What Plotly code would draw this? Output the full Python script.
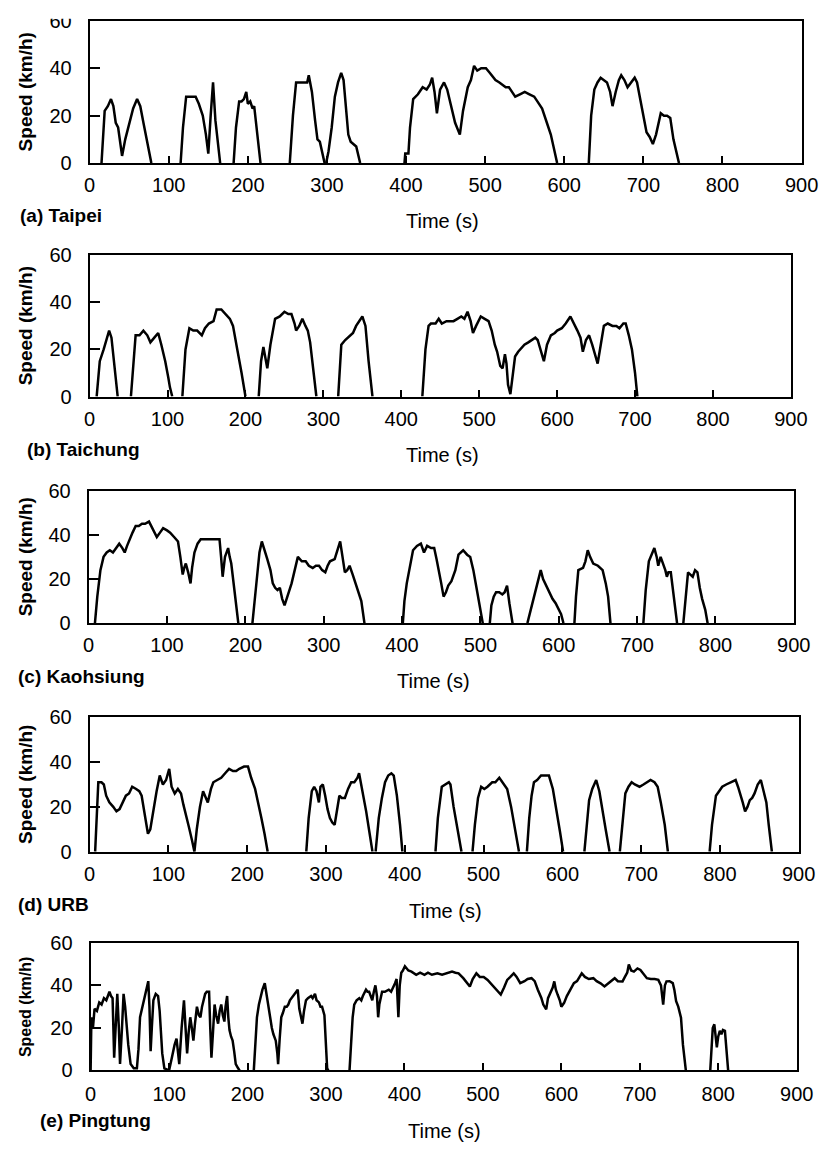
import plotly.graph_objects as go

W, H = 839, 1155

# ---------------- data: (time s, speed km/h) ----------------
taipei = [(0,0),(15,0),(17,12),(19,22),(23,24),(27,27),(30,24),(33,17),(36,15),(38,10),(41,3),(45,10),(50,17),(55,23),(60,27),(64,24),(68,17),(72,10),(78,0),
(115,0),(118,15),(122,28),(128,28),(134,28),(138,25),(143,20),(147,12),(150,4),(153,20),(156,34),(159,18),(165,0),
(182,0),(185,15),(189,26),(192,26),(195,27),(198,30),(200,25),(203,26),(206,23),(208,24),(212,12),(216,0),
(253,0),(257,20),(261,34),(268,34),(275,34),(277,37),(281,30),(285,18),(288,10),(291,9),(294,4),(297,0),(299,0),(302,5),(306,15),(310,28),(314,34),(318,38),(321,35),(324,25),(327,12),(330,9),(334,8),(337,7),(342,0),
(398,0),(399,4),(403,4),(405,15),(409,27),(415,29),(421,32),(426,31),(430,33),(433,36),(436,30),(439,21),(443,31),(448,34),(452,31),(456,25),(462,17),(468,12),(472,22),(478,32),(482,35),(486,41),(490,39),(495,40),(501,40),(506,38),(513,35),(518,34),(522,33),(526,32),(530,32),(534,30),(538,28),(544,29),(550,30),(556,29),(562,28),(566,26),(572,23),(578,17),(583,12),(587,6),(591,0),
(631,0),(634,20),(638,31),(642,34),(646,36),(650,35),(654,34),(658,30),(661,24),(665,30),(669,35),(672,37),(676,35),(680,32),(684,34),(689,36),(692,34),(697,25),(704,13),(708,11),(712,8),(716,12),(720,19),(722,21),(726,20),(730,20),(734,19),(738,10),(745,0)]

taichung = [(0,0),(9,0),(13,15),(18,20),(22,25),(25,28),(28,25),(32,12),(36,0),
(53,0),(56,15),(59,26),(64,26),(69,28),(74,26),(78,23),(83,25),(88,27),(92,22),(97,15),(101,8),(103,4),(106,0),
(119,0),(123,20),(128,29),(133,28),(138,28),(144,26),(148,29),(153,31),(159,32),(163,37),(169,37),(174,35),(180,33),(184,30),(187,25),(190,19),(195,10),(200,0),
(217,0),(220,15),(223,21),(226,15),(228,12),(232,22),(238,33),(244,34),(250,36),(255,35),(259,35),(263,31),(265,28),(269,30),(273,33),(277,30),(280,28),(283,23),(286,15),(291,0),
(319,0),(323,22),(328,24),(334,26),(338,27),(342,30),(346,32),(350,34),(354,30),(358,15),(363,0),
(427,0),(431,20),(435,30),(438,31),(444,31),(448,33),(452,31),(458,32),(462,32),(467,32),(472,33),(477,34),(481,33),(485,36),(489,32),(492,27),(496,30),(502,34),(507,33),(512,32),(516,28),(520,22),(523,19),(527,13),(530,12),(533,18),(535,14),(537,5),(540,1),(543,10),(546,17),(550,19),(555,21),(558,22),(563,23),(568,24),(572,25),(575,24),(579,20),(583,15),(587,22),(592,26),(597,27),(600,28),(606,29),(611,31),(617,34),(622,31),(626,28),(630,25),(633,19),(637,24),(641,26),(645,22),(649,18),(652,14),(656,22),(660,30),(665,31),(671,30),(676,30),(680,29),(685,31),(688,31),(692,26),(696,20),(700,10),(703,0)]

kaohsiung = [(0,0),(8,0),(11,12),(15,24),(19,30),(23,32),(27,33),(31,32),(35,34),(39,36),(43,34),(46,32),(49,35),(52,38),(56,41),(60,44),(64,44),(68,45),(72,45),(77,46),(80,44),(84,41),(87,39),(91,41),(95,43),(100,42),(104,41),(109,39),(114,37),(117,30),(120,22),(122,25),(124,27),(127,23),(130,18),(132,25),(135,32),(139,36),(143,38),(150,38),(160,38),(167,38),(169,30),(171,21),(174,30),(178,34),(180,30),(182,27),(186,15),(191,0),
(209,0),(212,10),(215,22),(218,32),(221,37),(224,34),(228,29),(232,24),(235,18),(238,16),(241,15),(244,16),(247,11),(250,8),(254,12),(259,18),(263,24),(267,30),(272,28),(277,28),(281,26),(286,25),(290,26),(294,26),(298,24),(302,23),(305,26),(308,28),(314,29),(318,33),(321,37),(324,30),(327,23),(330,24),(333,26),(337,22),(342,17),(345,14),(348,10),(352,0),
(401,0),(403,10),(406,18),(410,25),(414,33),(419,35),(424,36),(428,32),(432,35),(437,34),(441,34),(444,29),(447,24),(450,18),(453,12),(456,14),(459,17),(463,19),(468,24),(472,31),(478,33),(483,31),(487,30),(491,24),(495,16),(499,8),(503,0),
(512,0),(514,8),(517,12),(520,14),(524,14),(528,13),(531,14),(534,17),(537,9),(541,0),
(560,0),(564,6),(569,13),(573,18),(577,24),(580,20),(584,17),(588,14),(592,11),(596,9),(600,6),(603,4),(606,0),
(620,0),(622,12),(625,24),(631,25),(634,28),(637,33),(640,30),(644,27),(650,26),(656,24),(660,18),(663,12),(666,0),
(708,0),(711,15),(715,28),(719,31),(722,34),(725,30),(727,26),(730,30),(733,27),(736,24),(738,21),(740,23),(743,23),(747,10),(751,0),
(759,0),(762,12),(765,23),(768,22),(771,21),(774,24),(777,23),(780,16),(783,11),(787,6),(790,0)]

urb = [(0,0),(7,0),(9,20),(11,31),(15,31),(18,30),(21,25),(25,22),(30,20),(34,18),(38,19),(42,22),(46,25),(50,26),(54,29),(59,28),(63,27),(66,25),(70,16),(74,8),(77,10),(81,19),(85,27),(89,34),(93,30),(97,32),(101,37),(104,29),(108,26),(112,28),(116,26),(119,21),(122,17),(126,11),(130,5),(133,0),
(136,10),(140,20),(144,27),(147,24),(150,22),(154,28),(157,31),(162,32),(167,33),(172,35),(177,37),(182,36),(186,36),(190,37),(196,38),(201,38),(205,33),(210,28),(214,22),(218,15),(222,8),(226,0),
(275,0),(278,15),(282,27),(285,29),(288,27),(291,22),(293,29),(296,30),(299,25),(302,19),(305,15),(308,13),(311,12),(314,19),(317,25),(320,24),(324,24),(328,28),(332,31),(336,31),(340,33),(342,35),(346,28),(351,18),(355,9),(359,0),
(363,0),(367,15),(371,24),(375,31),(379,34),(383,35),(386,34),(390,25),(394,12),(397,0),
(439,0),(442,15),(447,29),(452,30),(456,31),(458,30),(462,20),(467,10),(472,0),
(486,0),(489,12),(493,24),(497,29),(501,28),(505,29),(511,31),(515,31),(520,33),(524,31),(530,28),(535,20),(540,10),(545,0),
(555,0),(558,15),(561,25),(564,31),(568,32),(573,34),(578,34),(583,34),(588,28),(593,18),(597,9),(601,0),
(628,0),(631,12),(634,23),(638,28),(643,32),(647,27),(651,18),(655,10),(660,0),
(673,0),(676,12),(680,26),(684,29),(688,31),(692,30),(698,29),(703,30),(708,31),(712,32),(717,31),(721,29),(725,22),(730,12),(734,0),
(787,0),(790,12),(795,25),(799,27),(803,29),(808,30),(814,31),(820,32),(823,29),(826,26),(829,22),(832,18),(835,20),(838,23),(841,24),(844,26),(848,30),(852,32),(855,28),(859,22),(862,12),(866,0)]

pingtung = [(0,0),(1,25),(3,20),(5,29),(8,28),(11,32),(14,31),(17,34),(20,33),(24,37),(26,35),(28,34),(30,6),(32,25),(34,36),(36,20),(37.5,3),(40,20),(42,36),(44,30),(46,19),(48,12),(51,3),(55,1),(59,1),(61,10),(63,25),(66,30),(69,35),(71,37),(73.5,42),(75,30),(76.5,9),(78,20),(80,33),(83,36),(86,35),(88,28),(90,15),(91.3,8),(94,1),(100,0),(103,5),(105,9),(107,12),(109.5,15),(111,8),(113,3),(116,20),(119,33),(121,20),(123,8),(125,18),(127,25),(129,20),(131,14),(133,22),(135.5,30),(138,26),(140,25),(142,30),(144,33),(146,36),(148,37),(151,37),(152.5,20),(154,6),(156,18),(158,31),(160,26),(162.5,22),(164.5,28),(166.5,31),(168.5,26),(170.5,23),(172,30),(174,35),(175.5,25),(177,19),(179,16),(181,14),(183,9),(185,3),(188,1),(190,0),
(208,0),(210,12),(212,25),(214.5,31),(216.5,34),(219,38),(222,41),(224,36),(226,32),(228,26),(229,23),(231,20),(233,17),(235,15),(236,14),(238,8),(239,3),(241,15),(243,25),(245,27),(247.5,30),(250,30),(252,31),(254,33),(256,34),(258,35),(260,36),(262,37),(264,38),(266,29),(268,26),(270,22),(272,28),(274.5,33),(277,34),(281,35),(283,34),(286,36),(288,33),(291,32),(293,30),(295,30),(298,26),(299.5,15),(301.5,1),(303,0),
(330,0),(332,15),(334,25),(336,31),(339,33),(342.5,34),(345,33),(347,35),(351,38),(353,37),(355,37),(358,34),(359,33),(361,37),(363,40),(365,35),(366.5,25),(368,31),(371.5,37),(375,37),(380,38),(383,37),(386,39),(388,41),(390,43),(391.5,30),(392.3,25),(394,40),(396,46),(398,47),(400.6,49),(405,47),(409,46.5),(415,45),(420,46),(425.5,45),(430,46),(435,45),(442,45.7),(448,45),(455,46),(460.7,46.5),(465,46),(469,45.7),(475,43.4),(480,41),(483.4,39.5),(487,43),(491.7,45.7),(496,44),(501,44),(506,42.6),(510,41),(514.5,39.5),(518,38),(522.8,35.7),(527,39),(531,42.6),(535,44),(539.3,45.7),(543,44),(547.6,41.1),(553,42),(557,43),(562,43.4),(566,42),(570,38),(574.5,34.1),(577,31),(580.7,28.7),(583,34),(587,37.2),(589,39),(591,41.9),(593,38),(595.2,35.7),(598,33),(600,30),(603.5,31.8),(607,35),(611,38),(616,41.1),(620,42),(626,45.7),(630,44),(635,43),(640.8,43.4),(645,42),(650,41),(655,39.5),(660,41),(664,42),(668,43.4),(672,42),(678,41.9),(681,44),(684,46),(686,49.9),(689,47),(692.5,46.5),(697,48),(700.8,47.3),(705,45),(709,43.4),(714,43),(719,43),(723.6,42.6),(727,40),(729.8,31),(732,40),(734,41.9),(738,42),(742,41.1),(744,38),(746.3,32.6),(749,30),(752.5,24.8),(755,12),(758.7,0),
(789.8,0),(791,10),(793,20),(795,21.7),(798.2,10.9),(800,16),(802,18.6),(804,17),(806,19),(808.5,18.6),(810,10),(812.6,0)]

series = [taipei, taichung, kaohsiung, urb, pingtung]
panel_labels = ["(a) Taipei", "(b) Taichung", "(c) Kaohsiung", "(d) URB", "(e) Pingtung"]
x_ticks = list(range(0, 1000, 100))
y_ticks = [0, 20, 40, 60]

# ---------------- layout geometry (pixels) ----------------
boxes = [(86, 818, 10, 155), (86, 807, 249, 393), (85, 810, 489, 624),
         (86, 815, 720, 857), (87, 813, 950, 1080)]
label_pos = [(12, 208), (20, 447), (10, 678), (10, 911), (33, 1131)]
time_pos = [(449, 214), (449, 453), (440, 683), (452, 917), (451, 1142)]
speed_size = [19, 19, 19, 19, 16]
xlab_standoff = [3, 3, 3, 3, 5]

FONT = "Liberation Sans, Arial, sans-serif"


def split_idle(data):
    """Break the line where the vehicle is stopped so idle parts lie on the axis."""
    xs, ys = [], []
    for j, (tt, vv) in enumerate(data):
        if j > 0 and vv == 0 and data[j - 1][1] == 0:
            xs.append(None)
            ys.append(None)
        xs.append(tt)
        ys.append(vv)
    return xs, ys


fig = go.Figure()
annotations = []
layout = dict(width=W, height=H, margin=dict(l=0, r=0, t=0, b=0),
              paper_bgcolor="white", plot_bgcolor="white", showlegend=False,
              font=dict(family=FONT, color="black"))

for i, (data, (l, r, t, b)) in enumerate(zip(series, boxes)):
    k = "" if i == 0 else str(i + 1)
    xs, ys = split_idle(data)
    fig.add_trace(go.Scatter(x=xs, y=ys, mode="lines", xaxis="x" + k, yaxis="y" + k,
                             line=dict(color="black", width=2.5), hoverinfo="skip",
                             connectgaps=False, cliponaxis=False))
    layout["xaxis" + k] = dict(domain=[l / W, r / W], range=[0, 900], anchor="y" + k,
                               tickvals=x_ticks, ticks="inside", ticklen=7, tickwidth=1.5,
                               tickcolor="black", showline=True, mirror=True,
                               linecolor="black", linewidth=2, showgrid=False, zeroline=False,
                               tickfont=dict(size=20, family=FONT, color="#000"),
                               ticklabelstandoff=xlab_standoff[i])
    layout["yaxis" + k] = dict(domain=[1 - b / H, 1 - t / H], range=[0, 60], anchor="x" + k,
                               tickvals=y_ticks, ticks="inside", ticklen=10, tickwidth=1.5,
                               tickcolor="black", showline=True, mirror=True,
                               linecolor="black", linewidth=2, showgrid=False, zeroline=False,
                               tickfont=dict(size=20, family=FONT, color="#000"),
                               ticklabelstandoff=12)
    lx, ly = label_pos[i]
    annotations.append(dict(text="<b>" + panel_labels[i] + "</b>", x=lx / W, y=1 - ly / H,
                            xref="paper", yref="paper", xanchor="left", yanchor="middle",
                            showarrow=False, font=dict(size=19, family=FONT, color="#000")))
    tx, ty = time_pos[i]
    annotations.append(dict(text="Time (s)", x=tx / W, y=1 - ty / H,
                            xref="paper", yref="paper", xanchor="center", yanchor="middle",
                            showarrow=False, font=dict(size=20, family=FONT, color="#000")))
    annotations.append(dict(text="<b>Speed (km/h)</b>", x=20 / W, y=1 - ((t + b) / 2) / H,
                            xref="paper", yref="paper", xanchor="center", yanchor="middle",
                            textangle=-90, showarrow=False,
                            font=dict(size=speed_size[i], family=FONT, color="#000")))

layout["annotations"] = annotations
# the source image is cropped just above the first panel, cutting its top tick label
layout["shapes"] = [dict(type="rect", xref="paper", yref="paper", layer="above",
                         x0=30 / W, x1=84 / W, y0=1 - 8 / H, y1=1.0,
                         fillcolor="white", line=dict(width=0))]
fig.update_layout(**layout)
fig.write_html("out.html")
